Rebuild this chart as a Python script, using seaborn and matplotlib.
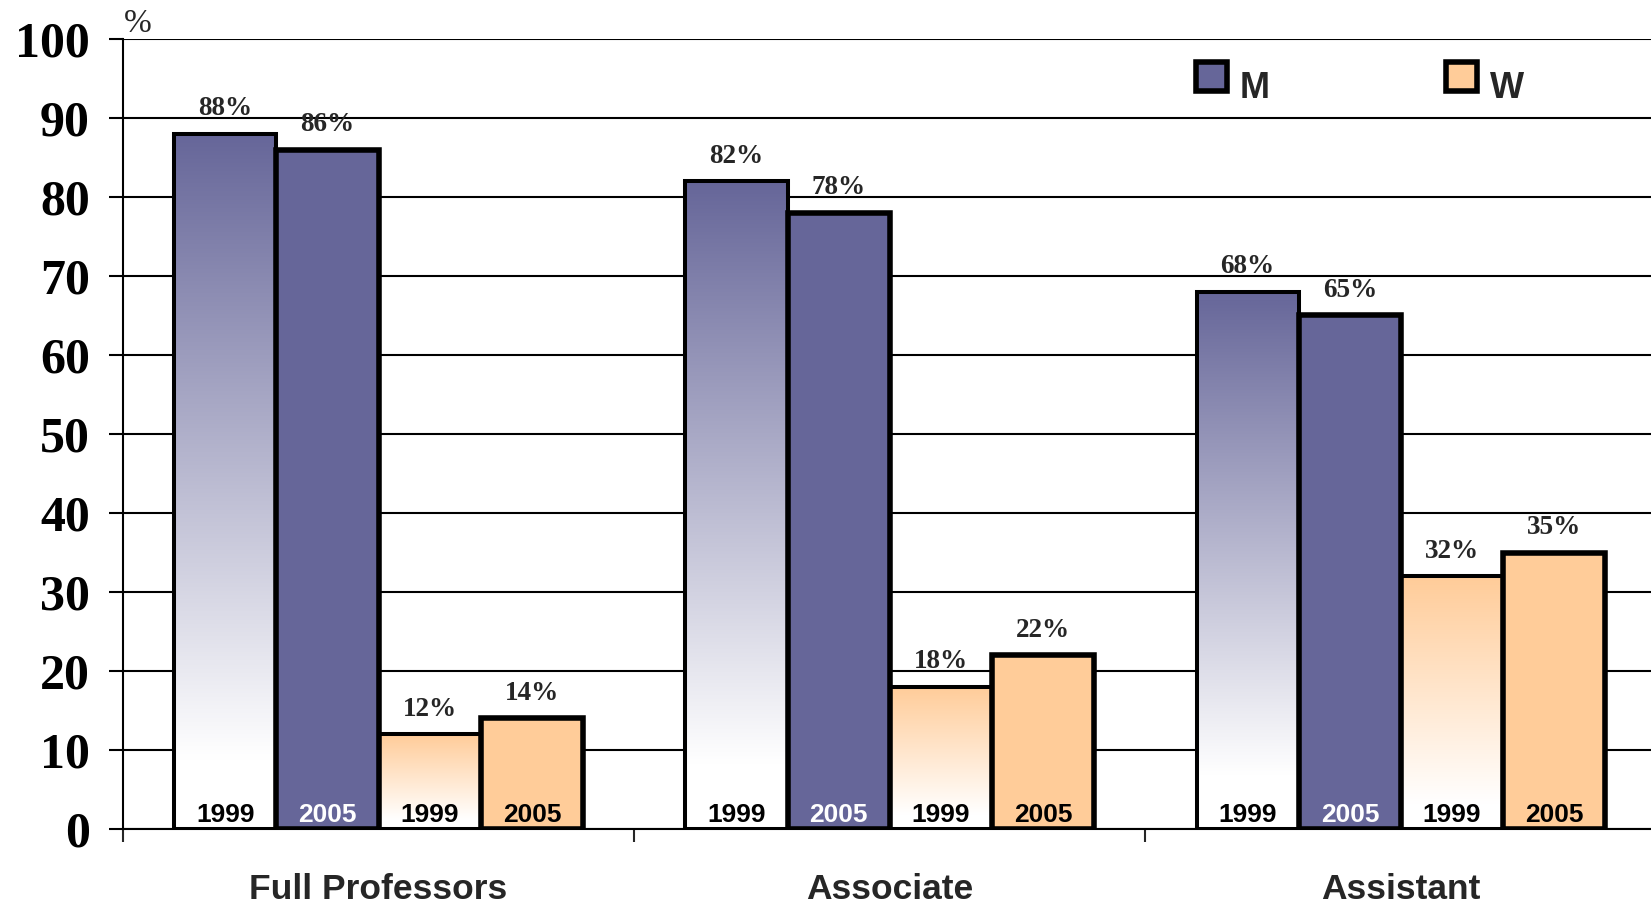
import numpy as np
import pandas as pd
import matplotlib
matplotlib.use("Agg")
import matplotlib.pyplot as plt
import seaborn as sns
from matplotlib.colors import LinearSegmentedColormap, to_rgb
from matplotlib.patches import Patch

# data
categories = ["Full Professors", "Associate", "Assistant"]
series = ["M 1999", "M 2005", "W 1999", "W 2005"]
m_1999 = [88, 82, 68]
m_2005 = [86, 78, 65]
w_1999 = [12, 18, 32]
w_2005 = [14, 22, 35]
year_labels = ["1999", "2005", "1999", "2005"]
yticks = list(range(0, 101, 10))

M_COLOR = "#666699"
W_COLOR = "#FFCC99"
palette = {"M 1999": M_COLOR, "M 2005": M_COLOR, "W 1999": W_COLOR, "W 2005": W_COLOR}

df = pd.DataFrame({
    "rank": categories * 4,
    "series": np.repeat(series, 3),
    "value": m_1999 + m_2005 + w_1999 + w_2005,
})

sns.set_style("white")
SANS = "Liberation Sans"
SERIF = "Liberation Serif"

fig = plt.figure(figsize=(16.51, 9.05), dpi=100)
ax = fig.add_axes([123 / 1651, 1 - 829 / 905, 1533.6 / 1651, 790 / 905])

sns.barplot(data=df, x="rank", y="value", hue="series", hue_order=series,
            order=categories, palette=palette, saturation=1, errorbar=None,
            width=0.8, gap=0, legend=False, ax=ax)

ax.set_xlim(-0.5, 2.5)
ax.set_ylim(0, 100)
ax.set_axisbelow(True)
ax.yaxis.grid(True, color="black", linewidth=1.5)
ax.xaxis.grid(False)

# 1999 bars: vertical gradient from colour (top) to white (bottom)
for i, cont in enumerate(ax.containers):
    is_1999 = year_labels[i] == "1999"
    base = to_rgb(palette[series[i]])
    cmap = LinearSegmentedColormap.from_list(
        "g", [(0.0, (1, 1, 1)), (0.1, (1, 1, 1)), (1.0, base)])
    for bar in cont:
        x0, w, h = bar.get_x(), bar.get_width(), bar.get_height()
        bar.set_edgecolor("black")
        if is_1999:
            bar.set_linewidth(2.9)
            grad = np.linspace(1, 0, 256).reshape(-1, 1)
            im = ax.imshow(grad, cmap=cmap, vmin=0, vmax=1, aspect="auto",
                           extent=[x0, x0 + w, 0, h], zorder=0.9,
                           interpolation="bilinear")
            im.set_clip_path(bar)
            bar.set_facecolor("none")
        else:
            bar.set_linewidth(4)
        txt_color = "white" if series[i] == "M 2005" else "black"
        ax.text(x0 + w / 2, 0.9, year_labels[i], ha="center", va="baseline",
                fontsize=19, fontweight="bold", family=SANS, color=txt_color,
                zorder=5)
    ax.bar_label(cont, labels=[f"{int(v)}%" for v in cont.datavalues],
                 padding=9, fontsize=19.5, fontweight="bold", family=SERIF,
                 zorder=5)

ax.set_xlim(-0.5, 2.5)
ax.set_ylim(0, 100)

# axes styling
for s in ["top", "right"]:
    ax.spines[s].set_visible(False)
for s in ["left", "bottom"]:
    ax.spines[s].set_color("black")
    ax.spines[s].set_linewidth(1.5)

ax.set_yticks(yticks)
ax.set_yticklabels([str(t) for t in yticks], fontsize=36, fontweight="bold",
                   family=SERIF)
ax.tick_params(axis="y", direction="out", length=10, width=1.5, pad=14,
               colors="black", left=True)

ax.set_xticks([-0.5, 0.5, 1.5])
ax.set_xticklabels([])
ax.set_xticks([0, 1, 2], minor=True)
ax.set_xticklabels(categories, minor=True, fontsize=25.5, fontweight="bold",
                   family=SANS)
ax.tick_params(axis="x", which="major", direction="out", length=9, width=1.5,
               bottom=True)
ax.tick_params(axis="x", which="minor", length=0, pad=32)
ax.set_xlabel("")

ax.set_ylabel("%", rotation=0, fontsize=24, family=SERIF, ha="left", va="bottom")
ax.yaxis.set_label_coords(0.0005, 1.0)

handles = [Patch(facecolor=M_COLOR, edgecolor="black", linewidth=4, label="M"),
           Patch(facecolor=W_COLOR, edgecolor="black", linewidth=4, label="W")]
leg = fig.legend(handles=handles, loc="upper left",
                 bbox_to_anchor=(1196 / 1651, 1 - 62 / 905),
                 ncol=2, frameon=False, handlelength=0.85, handleheight=0.85,
                 handletextpad=0.35, columnspacing=4.9, borderpad=0, borderaxespad=0,
                 prop={"family": SANS, "weight": "bold", "size": 26})
# the legend words sit a little lower than their boxes in the reference
for t in leg.get_texts():
    t.set_y(-9)

fig.savefig("out.png", dpi=100)
